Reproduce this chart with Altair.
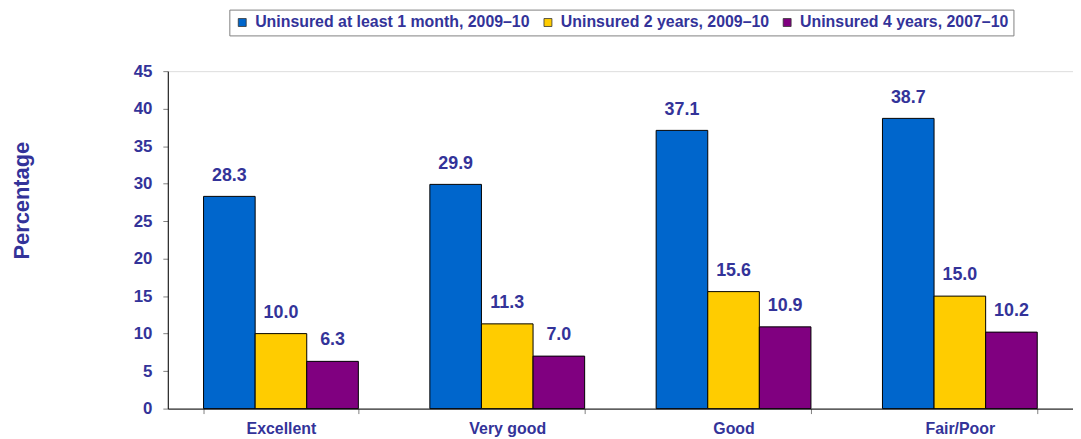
import altair as alt
import pandas as pd

categories = ["Excellent", "Very good", "Good", "Fair/Poor"]
series = [
    "Uninsured at least 1 month, 2009\u201310",
    "Uninsured 2 years, 2009\u201310",
    "Uninsured 4 years, 2007\u201310",
]
one_month = [28.3, 29.9, 37.1, 38.7]
two_years = [10.0, 11.3, 15.6, 15.0]
four_years = [6.3, 7.0, 10.9, 10.2]
colors = ["#0066CC", "#FFCC00", "#800080"]
y_ticks = [0, 5, 10, 15, 20, 25, 30, 35, 40, 45]

rows = []
for vals, s in zip([one_month, two_years, four_years], series):
    for c, v in zip(categories, vals):
        rows.append({"category": c, "series": s, "value": v})
df = pd.DataFrame(rows)

TXT = "#333399"
FONT = "Liberation Sans"

x = alt.X("category:N", sort=categories,
          scale=alt.Scale(paddingInner=0.316, paddingOuter=0.158),
          axis=alt.Axis(title=None, labelAngle=0, labelFont=FONT, labelFontSize=16,
                        labelFontWeight="bold", labelColor=TXT, tickBand="extent",
                        tickSize=5, tickColor="#808080", domainColor="#000000",
                        labelPadding=7, grid=False))
xo = alt.XOffset("series:N", sort=series, scale=alt.Scale(paddingInner=0, paddingOuter=0))
y = alt.Y("value:Q", scale=alt.Scale(domain=[0, 45], nice=False, zero=True),
          axis=alt.Axis(values=y_ticks, tickCount=10, title="Percentage", titleFont=FONT,
                        titleFontSize=22, titleFontWeight="bold", titleColor=TXT,
                        titleAngle=270, titleX=-140, titleY=130, titleAlign="center",
                        titleBaseline="alphabetic",
                        labelFont=FONT, labelFontSize=17, labelFontWeight="bold",
                        labelColor=TXT, tickSize=5, tickColor="#808080",
                        labelOverlap=False, labelFlush=False,
                        domainColor="#000000", labelPadding=11, grid=False))

bars = alt.Chart(df).mark_bar(stroke="#000000", strokeWidth=1).encode(
    x=x, xOffset=xo, y=y,
    color=alt.Color("series:N", sort=series,
                    scale=alt.Scale(domain=series, range=colors),
                    legend=alt.Legend(title=None, orient="none", legendX=62, legendY=-62,
                                      direction="horizontal", symbolType="square",
                                      symbolSize=64, symbolStrokeColor="#333333",
                                      symbolStrokeWidth=0.8, labelFont=FONT,
                                      labelFontSize=16, labelFontWeight="bold",
                                      labelColor=TXT, labelOffset=5, columnPadding=10,
                                      padding=5, strokeColor="#808080",
                                      fillColor="#FFFFFF", labelLimit=400)),
)

labels = alt.Chart(df).mark_text(font=FONT, fontSize=18, fontWeight="bold", color=TXT,
                                 dy=-16, baseline="alphabetic").encode(
    x=x, xOffset=xo, y=y, text=alt.Text("value:Q", format=".1f"),
)

chart = (bars + labels).properties(
    width=912, height=340,
    autosize=alt.AutoSizeParams(type="none"),
    padding={"left": 161, "top": 62, "right": 0, "bottom": 29},
).configure_view(stroke=None).configure(background="#FFFFFF")

chart.save("out.html", embed_options={"renderer": "svg", "actions": False})
